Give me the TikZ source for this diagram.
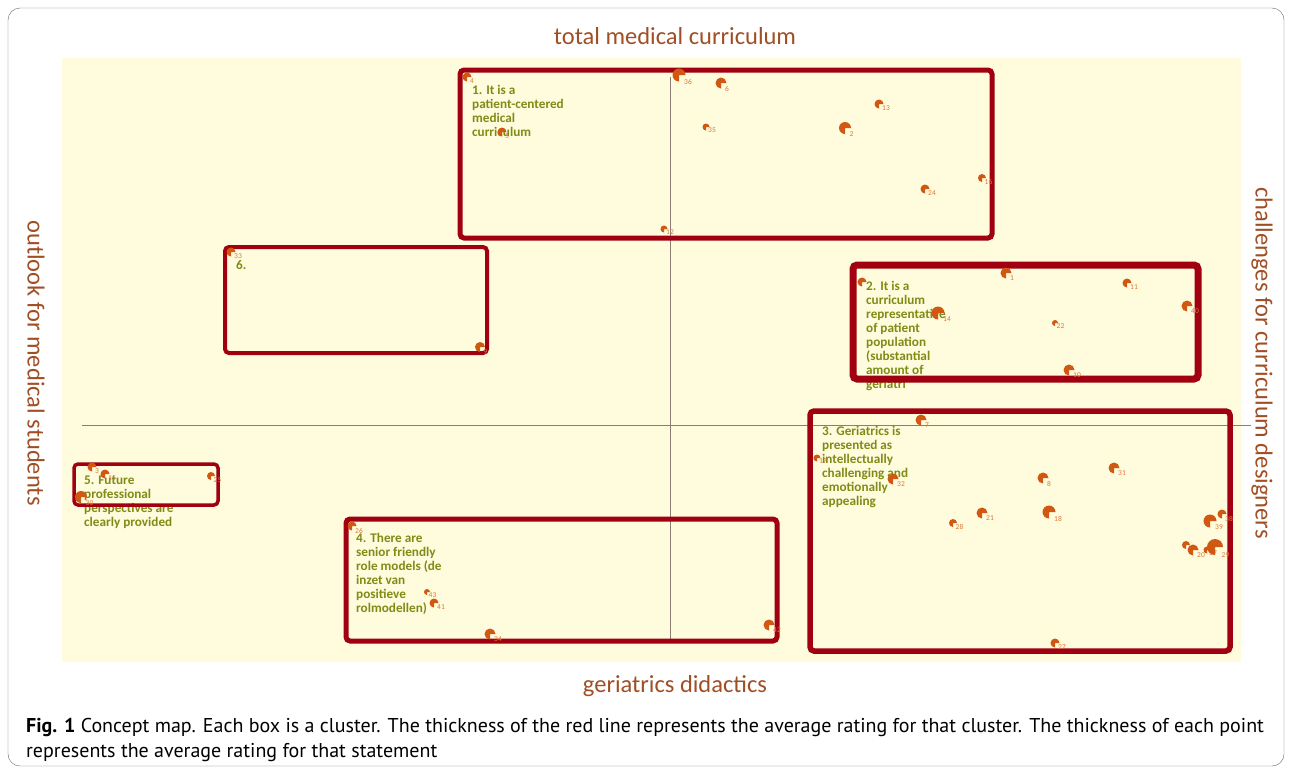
\documentclass[tikz,border=0pt]{standalone}
\usepackage{fontspec}
\setmainfont{Carlito}
\newfontfamily\capfont{PT Sans}

\definecolor{plotbg}{RGB}{254,252,220}
\definecolor{boxred}{RGB}{160,0,16}
\definecolor{ptorange}{RGB}{208,88,18}
\definecolor{numorange}{RGB}{224,118,60}
\definecolor{olivetext}{RGB}{126,140,22}
\definecolor{axisbrown}{RGB}{160,78,36}
\definecolor{axisgray}{RGB}{140,126,116}

\tikzset{
  cluster/.style={draw=boxred, rounded corners=4pt},
  clustertext/.style={anchor=north west, inner sep=0pt, align=left, text=olivetext,
    font=\bfseries\fontsize{13.2}{14}\selectfont},
  stmtnum/.style={anchor=west, inner sep=0pt, text=numorange, font=\fontsize{7.5}{8}\selectfont},
  axistitle/.style={text=axisbrown, inner sep=0pt, font=\fontsize{24.5}{28}\selectfont},
}

\begin{document}
\begin{tikzpicture}[x=1pt, y=-1pt]

    \useasboundingbox (0,0) rectangle (1292,772);

    %% Frame and plot area
    \draw[gray!80!black, rounded corners=12pt] (8,8) rectangle (1284,766);
    \fill[plotbg] (62,58) rectangle (1241,662);

    % Axes
    \draw[axisgray, line width=1pt] (82,425) -- (1251,425);
    \draw[axisgray, line width=1pt] (670,77) -- (670,640);

    % Axis titles
    \node[axistitle] (top) at (675,36) {total medical curriculum};
    \node[axistitle] (bottom) at (675,686) {geriatrics didactics};
    \node[axistitle, rotate=-90] (left) at (36,363) {outlook for medical students};
    \node[axistitle, rotate=-90] (right) at (1262,363) {challenges for curriculum designers};

    %% Cluster labels
    \node[clustertext] (c1) at (472,85) {1. It is a\\patient-centered\\medical\\curriculum};
    \node[clustertext] (c2) at (866,281) {2. It is a\\curriculum\\representative\\of patient\\population\\(substantial\\amount of\\geriatri};
    \node[clustertext] (c3) at (822,426) {3. Geriatrics is\\presented as\\intellectually\\challenging and\\emotionally\\appealing};
    \node[clustertext] (c4) at (356,533) {4. There are\\senior friendly\\role models (de\\inzet van\\positieve\\rolmodellen)};
    \node[clustertext] (c5) at (84,476) {5. Future\\professional\\perspectives are\\clearly provided};
    \node[clustertext] (c6) at (236,260) {6.};

    %% Cluster boxes (line width = average rating)
    \draw[cluster, line width=5pt] (460,70) rectangle (992,238);
    \draw[cluster, line width=7pt] (853,265) rectangle (1198,379);
    \draw[cluster, line width=5.5pt] (810,411) rectangle (1230,651);
    \draw[cluster, line width=5pt] (346,519) rectangle (777,641);
    \draw[cluster, line width=3.5pt] (74,464) rectangle (218,505);
    \draw[cluster, line width=4pt] (225,247) rectangle (487,353);

    %% Statements: x/y/radius/number
    \foreach \px/\py/\r/\num in {
        467/77/4.5/4, 679/75/6.5/36, 721/83/5.5/6, 502/132/4.5/5, 706/127/3.5/35,
        879/104/4.5/13, 845/128/6/2, 925/189/4.5/24, 982/178/4/16, 664/229/3.5/12,
        231/252/4.5/33, 480/347/5/9,
        1006/273/5.5/1, 1127/283/4.5/11, 938/313/6.5/14, 1055/323/3/22,
        1187/306/5.5/40, 1069/370/5.5/10,
        921/420/5.5/7, 817/458/3.5/17, 893/479/5.5/32, 1043/478/5.5/8, 1114/468/5.5/31,
        982/513/5.5/21, 1049/512/6.5/18, 953/523/4/28, 1222/514/4.5/38,
        1210/521/6.5/39, 1193/550/5.5/20, 1207/550/3.5/37, 1215/547/8/29, 1055/643/4.5/27,
        92/467/4.5/3, 105/474/4.5/15, 211/476/4/25, 81/497/6/30,
        352/526/4.5/26, 427/592/3/43, 434/603/4.5/41, 490/634/5.5/34, 769/625/5.5/42} {
      \fill[ptorange] (\px,\py) -- ++(90:\r) arc[start angle=90, end angle=360, radius=\r] -- cycle;
      \node[stmtnum] (s\num) at (\px+\r-1.5,\py+\r) {\num};
    }
    % points whose number is hidden
    \foreach \px/\py/\r in {862/282/4.5, 1186/545/4}
      \fill[ptorange] (\px,\py) -- ++(90:\r) arc[start angle=90, end angle=360, radius=\r] -- cycle;

    %% Caption
    \node[anchor=north west, inner sep=0pt, align=left, font=\capfont\fontsize{20}{25}\selectfont] (caption) at (26,718)
      {\textbf{Fig. 1} Concept map. Each box is a cluster. The thickness of the red line represents the average rating for that cluster. The thickness of each point\\
       represents the average rating for that statement};

\end{tikzpicture}
\end{document}
